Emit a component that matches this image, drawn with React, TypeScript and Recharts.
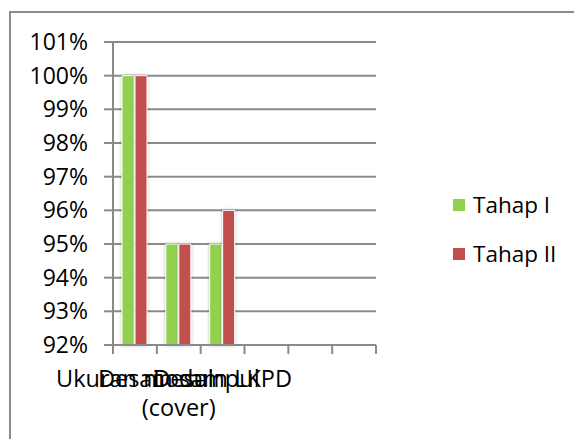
import { Bar, BarChart, CartesianGrid, XAxis, YAxis } from "recharts";

const categories = ["Ukuran modul", "Desain sampul\n(cover)", "Desain LKPD", "", "", ""];
const tahapI = [100, 95, 95, null, null, null];
const tahapII = [100, 95, 96, null, null, null];
const yTicks = [92, 93, 94, 95, 96, 97, 98, 99, 100, 101];
const seriesNames = ["Tahap I", "Tahap II"];
const seriesColors = ["#92D050", "#C0504D"];

const data = categories.map((name, i) => ({
  key: `cat${i}`,
  name,
  t1: tahapI[i],
  t2: tahapII[i],
}));

const FONT = "'Open Sans', 'Noto Sans', sans-serif";
const GRID = "#8a8a8a";
const PLOT_W = 263;

const XTick = (props: any) => {
  const { x, y, payload } = props;
  const idx = data.findIndex((d) => d.key === payload.value);
  const band = (props.width || PLOT_W) / categories.length;
  const lines = (categories[idx] || "").split("\n");
  const left = x - band / 2;
  return (
    <g>
      <line x1={left} x2={left} y1={y - 9} y2={y} stroke={GRID} strokeWidth={2} />
      {idx === categories.length - 1 && (
        <line x1={left + band} x2={left + band} y1={y - 9} y2={y} stroke={GRID} strokeWidth={2} />
      )}
      <text x={x} y={y + 33} textAnchor="middle" fontSize={23.5} fontFamily={FONT} fill="#000">
        {lines.map((l, i) => (
          <tspan key={i} x={x} dy={i === 0 ? 0 : 29}>
            {l}
          </tspan>
        ))}
      </text>
    </g>
  );
};

const App = () => {
  return (
    <div
      style={{
        position: "absolute",
        left: 0,
        top: 0,
        width: 574,
        height: 439,
        overflow: "hidden",
        background: "#fff",
      }}
    >
      <div
        style={{
          position: "absolute",
          left: 9,
          top: 11,
          width: 620,
          height: 500,
          border: `2px solid ${GRID}`,
        }}
      />
      <div style={{ position: "absolute", left: 0, top: 0 }}>
        <BarChart
          width={574}
          height={439}
          data={data}
          margin={{ top: 42, right: 198, bottom: 0, left: 0 }}
          barSize={12}
          barGap={1}
        >
          <defs>
            <filter id="barShadow" x="-50%" y="-10%" width="200%" height="120%">
              <feDropShadow dx="0" dy="0" stdDeviation="1.5" floodColor="#000" floodOpacity="0.3" />
            </filter>
          </defs>
          <CartesianGrid vertical={false} stroke={GRID} strokeWidth={2} />
          <XAxis
            dataKey="key"
            height={94}
            interval={0}
            tickLine={false}
            tickSize={9}
            tickMargin={0}
            axisLine={{ stroke: GRID, strokeWidth: 2 }}
            tick={<XTick />}
          />
          <YAxis
            width={113}
            domain={[92, 101]}
            ticks={yTicks}
            interval={0}
            tickSize={9}
            tickMargin={16}
            tickFormatter={(v) => `${v}%`}
            axisLine={{ stroke: GRID, strokeWidth: 2 }}
            tickLine={{ stroke: GRID, strokeWidth: 2 }}
            tick={{ fontSize: 23, fontFamily: FONT, fill: "#000" }}
          />
          <Bar
            dataKey="t1"
            name={seriesNames[0]}
            fill={seriesColors[0]}
            stroke="#fff"
            strokeWidth={1}
            filter="url(#barShadow)"
            isAnimationActive={false}
          />
          <Bar
            dataKey="t2"
            name={seriesNames[1]}
            fill={seriesColors[1]}
            stroke="#fff"
            strokeWidth={1}
            filter="url(#barShadow)"
            isAnimationActive={false}
          />
        </BarChart>
      </div>
      <div style={{ position: "absolute", left: 453, top: 180, fontFamily: FONT, fontSize: 22.5 }}>
        {seriesNames.map((n, i) => (
          <div key={n} style={{ display: "flex", alignItems: "center", height: 49 }}>
            <span
              style={{
                display: "inline-block",
                width: 12,
                height: 12,
                background: seriesColors[i],
                marginRight: 8,
              }}
            />
            <span style={{ color: "#000" }}>{n}</span>
          </div>
        ))}
      </div>
    </div>
  );
};

export default App;
